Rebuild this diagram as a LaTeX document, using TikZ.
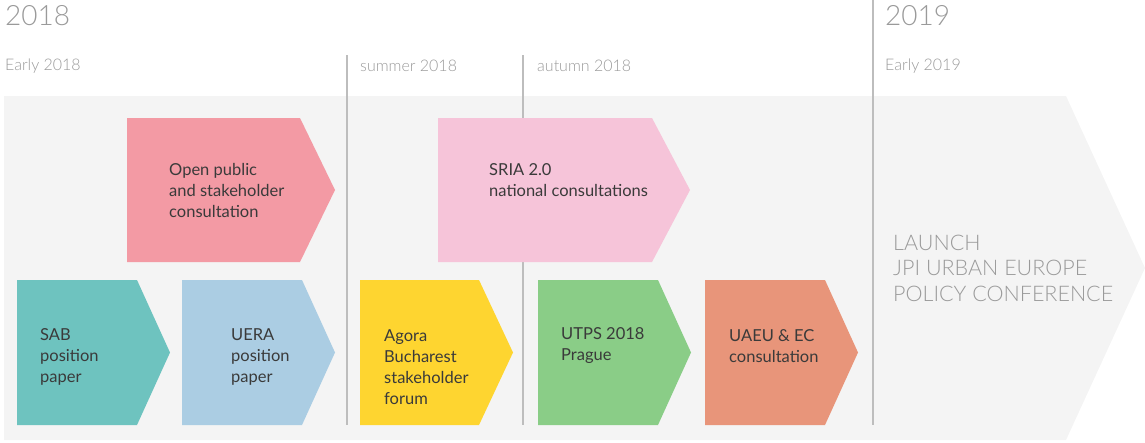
\documentclass[tikz,border=0pt]{standalone}
\usepackage{fontspec}
\setmainfont{Lato}
\newfontfamily\lightfont{Lato Light}
\definecolor{bggray}{HTML}{F4F4F4}
\definecolor{vline}{HTML}{BDBDBD}
\definecolor{yeartxt}{HTML}{9A9A9A}
\definecolor{boxtxt}{HTML}{3A3A3A}
\definecolor{cpink}{HTML}{F39AA4}
\definecolor{clpink}{HTML}{F6C4D9}
\definecolor{cteal}{HTML}{6EC3BF}
\definecolor{cblue}{HTML}{ABCDE3}
\definecolor{cyellow}{HTML}{FED530}
\definecolor{cgreen}{HTML}{8ACD87}
\definecolor{csalmon}{HTML}{E8957A}
\tikzset{
  year/.style={anchor=west, text=yeartxt, font=\lightfont\fontsize{28}{32}\selectfont, inner sep=0pt},
  period/.style={anchor=west, text=yeartxt, font=\lightfont\fontsize{16}{18}\selectfont, inner sep=0pt},
  boxtext/.style={anchor=west, align=left, text=boxtxt, font=\fontsize{16.5}{21}\selectfont, inner sep=0pt},
  launch/.style={anchor=west, align=left, text=yeartxt, font=\lightfont\fontsize{21.5}{25.5}\selectfont, inner sep=0pt},
  divider/.style={draw=vline, line width=1.5pt}
}
\newcommand\mychev[6]{%
  \fill[#6] (#1,#4) -- (#2,#4) -- (#3,{(#4+#5)/2}) -- (#2,#5) -- (#1,#5) -- cycle;}
\begin{document}
\begin{tikzpicture}[x=1pt,y=-1pt]
\useasboundingbox (0,0) rectangle (1145,442);
% background arrow
\fill[bggray] (4,96) -- (1066,96) -- (1145,268) -- (1066,440) -- (4,440) -- cycle;
% dividers
\coordinate (d1t) at (347,55); \coordinate (d1b) at (347,425);
\coordinate (d2t) at (523,55); \coordinate (d2b) at (523,425);
\coordinate (d3t) at (873,0);  \coordinate (d3b) at (873,425);
\draw[divider] (d1t) -- (d1b);
\draw[divider] (d2t) -- (d2b);
\draw[divider] (d3t) -- (d3b);
% headings
\node[year] (y2018) at (5,16) {2018};
\node[year] (y2019) at (885,16) {2019};
\node[period] (p1) at (5,66) {Early 2018};
\node[period] (p2) at (360,66) {summer 2018};
\node[period] (p3) at (537,66) {autumn 2018};
\node[period] (p4) at (885,66) {Early 2019};
% top row
\mychev{127}{300}{335}{118}{262}{cpink}
\node[boxtext] (open) at (169,190) {Open public\\and stakeholder\\consultation};
\mychev{438}{652}{690}{118}{262}{clpink}
\node[boxtext] (sria) at (489,180) {SRIA 2.0\\national consultations};
% bottom row
\mychev{17}{137}{170}{280}{425}{cteal}
\node[boxtext] (sab) at (40,357) {SAB\\position\\paper};
\mychev{182}{302}{335}{280}{425}{cblue}
\node[boxtext] (uera) at (231,357) {UERA\\position\\paper};
\mychev{360}{479}{513}{280}{425}{cyellow}
\node[boxtext] (agora) at (384,367) {Agora\\Bucharest\\stakeholder\\forum};
\mychev{538}{658}{691}{280}{425}{cgreen}
\node[boxtext] (utps) at (561,346) {UTPS 2018\\Prague};
\mychev{705}{825}{858}{280}{425}{csalmon}
\node[boxtext] (uaeu) at (729,346) {UAEU \& EC\\consultation};
% launch
\node[launch] (launch) at (893,268) {LAUNCH\\JPI URBAN EUROPE\\POLICY CONFERENCE};
\end{tikzpicture}
\end{document}
